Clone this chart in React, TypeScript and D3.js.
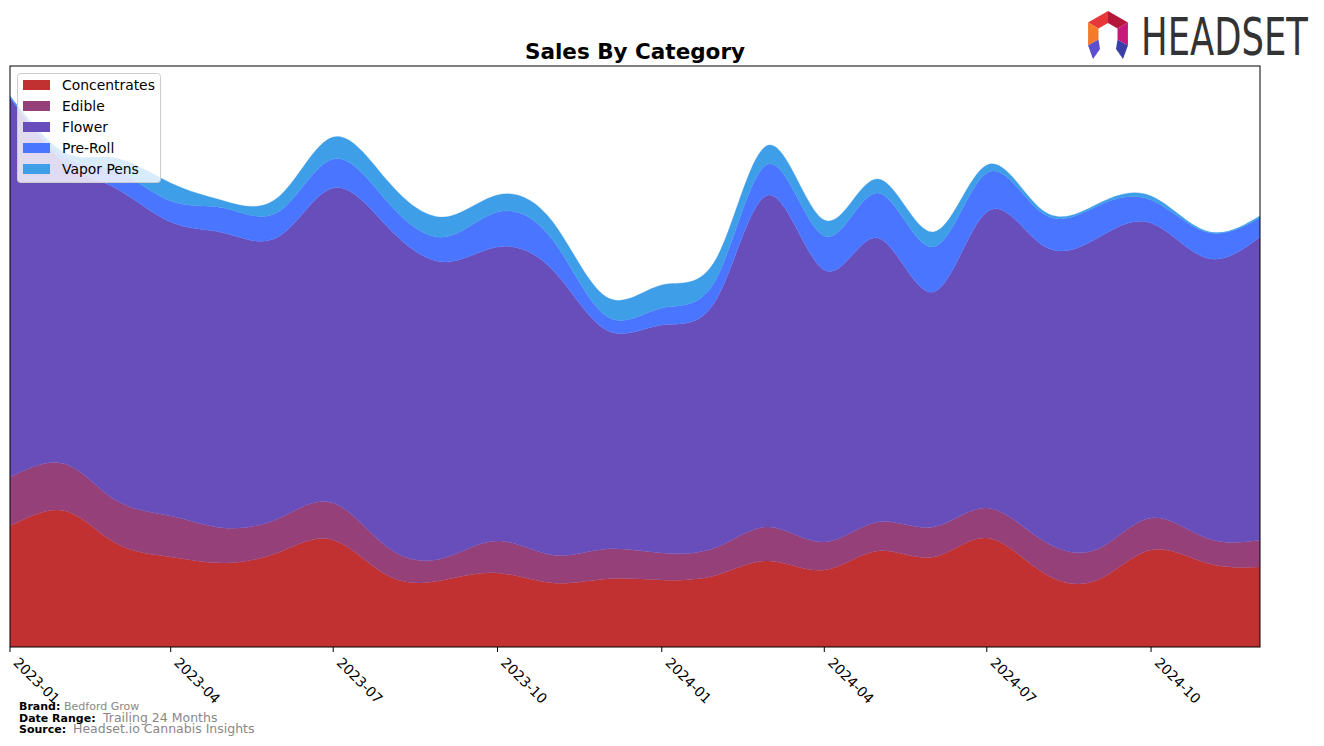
import React from "react";
import * as d3 from "d3";

const months = [
  "2023-01", "2023-02", "2023-03", "2023-04", "2023-05", "2023-06",
  "2023-07", "2023-08", "2023-09", "2023-10", "2023-11", "2023-12",
  "2024-01", "2024-02", "2024-03", "2024-04", "2024-05", "2024-06",
  "2024-07", "2024-08", "2024-09", "2024-10", "2024-11", "2024-12",
];
const concentrates = [121, 136, 104, 90, 84, 95, 107, 71, 67, 74, 64, 68, 67, 72, 86, 77, 96, 90, 109, 75, 67, 97, 84, 80];
const edible = [49, 47, 43, 41, 35, 34, 37, 28, 22, 32, 28, 30, 27, 28, 34, 28, 29, 30, 30, 32, 31, 32, 25, 27];
const flower = [379, 301, 312, 294, 295, 282, 315, 320, 296, 294, 285, 219, 228, 249, 332, 272, 284, 235, 296, 295, 311, 295, 280, 303];
const preRoll = [1, 6, 18, 21, 25, 25, 29, 25, 25, 35, 30, 14, 17, 21, 31, 34, 45, 45, 39, 32, 32, 23, 26, 19];
const vaporPens = [1, 4, 12, 18, 7, 15, 22, 21, 20, 17, 18, 19, 23, 20, 19, 16, 14, 15, 8, 3, 2, 4, 1, 2];

const categories = ["Concentrates", "Edible", "Flower", "Pre-Roll", "Vapor Pens"];
const colors = ["#C13131", "#96407A", "#684EBB", "#4A76FF", "#3E9EE8"];
const tickLabels = ["2023-01", "2023-04", "2023-07", "2023-10", "2024-01", "2024-04", "2024-07", "2024-10"];

const W = 1324;
const H = 746;
const left = 10, right = 1260, top = 66, bottom = 647;

const parse = d3.timeParse("%Y-%m");

export default function App() {
  const rows = months.map((m, i) => ({
    date: parse(m) as Date,
    Concentrates: concentrates[i],
    Edible: edible[i],
    Flower: flower[i],
    "Pre-Roll": preRoll[i],
    "Vapor Pens": vaporPens[i],
  }));
  const x = d3.scaleTime().domain([rows[0].date, rows[rows.length - 1].date]).range([left, right]);
  const y = d3.scaleLinear().domain([0, 581]).range([bottom, top]);
  const stack = d3.stack<any>().keys(categories);
  const series = stack(rows);
  const area = d3
    .area<any>()
    .x((d) => x(d.data.date))
    .y0((d) => y(d[0]))
    .y1((d) => y(d[1]))
    .curve(d3.curveNatural);

  const font = "DejaVu Sans, sans-serif";

  // logo geometry
  const cx = 1108, cy = 34, R = 23, r = 11;
  const pt = (ang: number, rad: number) => [cx + rad * Math.cos((ang * Math.PI) / 180), cy + rad * Math.sin((ang * Math.PI) / 180)];
  const quad = (a1: number, a2: number) => {
    const p = [pt(a1, R), pt(a2, R), pt(a2, r), pt(a1, r)];
    return p.map((q) => q.join(",")).join(" ");
  };
  const legL = [pt(150, R), pt(150, r), [cx - 8, cy + 15], [cx - 15, cy + 25]].map((q) => q.join(",")).join(" ");
  const legR = [pt(30, R), pt(30, r), [cx + 8, cy + 15], [cx + 15, cy + 25]].map((q) => q.join(",")).join(" ");

  return (
    <svg width={W} height={H} style={{ position: "absolute", left: 0, top: 0 }} fontFamily={font}>
      <rect x={0} y={0} width={W} height={H} fill="#ffffff" />
      <clipPath id="plotclip">
        <rect x={left} y={top} width={right - left} height={bottom - top} />
      </clipPath>
      <g clipPath="url(#plotclip)">
        {series.map((s, i) => (
          <path key={categories[i]} d={area(s as any) || ""} fill={colors[i]} stroke={colors[i]} strokeWidth={0.3} />
        ))}
      </g>
      <rect x={left} y={top} width={right - left} height={bottom - top} fill="none" stroke="#000" strokeWidth={1} />

      {tickLabels.map((t) => {
        const xv = x(parse(t) as Date);
        return (
          <g key={t}>
            <line x1={xv} x2={xv} y1={bottom} y2={bottom + 5} stroke="#000" strokeWidth={1} />
            <text transform={`translate(${xv + 10},${bottom + 9}) rotate(45)`} fontSize={13.9} dy="0.75em" fill="#000">
              {t}
            </text>
          </g>
        );
      })}

      <text x={635} y={59} textAnchor="middle" fontSize={21.5} fontWeight="bold" fill="#000">
        Sales By Category
      </text>

      <g>
        <rect x={17.5} y={73.5} width={143} height={109} rx={3} fill="#ffffff" fillOpacity={0.8} stroke="#cccccc" strokeWidth={1} />
        {categories.map((c, i) => (
          <g key={c}>
            <rect x={23} y={80 + i * 21} width={27} height={10} fill={colors[i]} />
            <text x={62} y={85 + i * 21} dy="0.36em" fontSize={13.9} fill="#000">
              {c}
            </text>
          </g>
        ))}
      </g>

      <g fontSize={11}>
        <text x={19} y={710} fontWeight="bold" fill="#000">Brand:</text>
        <text x={64} y={710} fill="#888">Bedford Grow</text>
        <text x={19} y={722} fontWeight="bold" fill="#000">Date Range:</text>
        <text x={103} y={722} fill="#888" fontSize={12.5}>Trailing 24 Months</text>
        <text x={19} y={733} fontWeight="bold" fill="#000">Source:</text>
        <text x={73} y={733} fill="#888" fontSize={12.5}>Headset.io Cannabis Insights</text>
      </g>

      <g>
        <polygon points={quad(-90, -30)} fill="#B5173C" />
        <polygon points={quad(-150, -90)} fill="#E8373A" />
        <polygon points={quad(-30, 30)} fill="#C8197A" />
        <polygon points={quad(150, 210)} fill="#F47B2A" />
        <polygon points={legL} fill="#5B4FD0" />
        <polygon points={legR} fill="#3A3FA8" />
        <text x={1141} y={55} fontSize={52} fill="#333333" textLength={167} lengthAdjust="spacingAndGlyphs" fontFamily="Liberation Sans Narrow, DejaVu Sans, sans-serif">
          HEADSET
        </text>
      </g>
    </svg>
  );
}
